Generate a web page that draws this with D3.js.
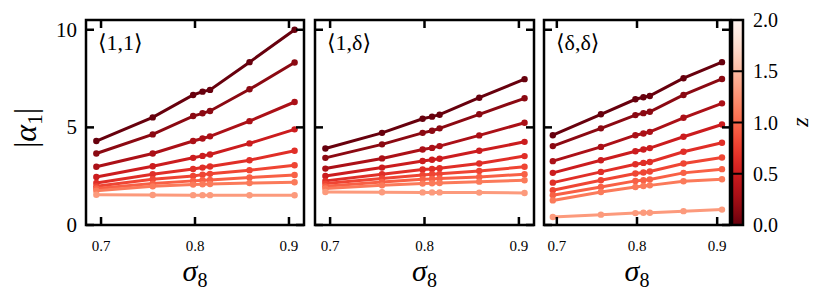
<!DOCTYPE html>
<html><head><meta charset="utf-8">
<script src="https://cdn.jsdelivr.net/npm/d3@7"></script>
<style>body{margin:0;background:#fff}svg{display:block}svg text{font-family:"Times New Roman",Times,"Liberation Serif",Tinos,"DejaVu Serif",serif}</style>
</head><body>
<svg id="c" width="830" height="304"></svg>
<script>
const sigma8 = [0.695, 0.755, 0.798, 0.808, 0.816, 0.858, 0.906];
const redshifts = [0, 0.15, 0.3, 0.5, 0.65, 0.8, 0.95, 1.1, 1.3];
const panelTitles = ["⟨1,1⟩", "⟨1,δ⟩", "⟨δ,δ⟩"];
const xTicks = [0.7, 0.8, 0.9];
const yTicks = [0, 5, 10];
const cbTicks = [0, 0.5, 1, 1.5, 2];

const alpha11 = [
  [4.30, 5.51, 6.66, 6.83, 6.92, 8.34, 10.0],
  [3.66, 4.64, 5.58, 5.72, 5.84, 6.95, 8.32],
  [2.98, 3.66, 4.30, 4.43, 4.54, 5.32, 6.30],
  [2.46, 3.01, 3.44, 3.54, 3.61, 4.18, 4.90],
  [2.15, 2.60, 2.87, 2.94, 3.00, 3.32, 3.80],
  [1.98, 2.34, 2.51, 2.58, 2.62, 2.81, 3.06],
  [1.87, 2.12, 2.26, 2.29, 2.31, 2.43, 2.56],
  [1.76, 1.98, 2.07, 2.09, 2.10, 2.15, 2.19],
  [1.55, 1.54, 1.53, 1.53, 1.53, 1.52, 1.52]
];
const alpha1d = [
  [3.92, 4.72, 5.44, 5.55, 5.65, 6.52, 7.47],
  [3.44, 4.13, 4.72, 4.83, 4.95, 5.67, 6.49],
  [2.89, 3.41, 3.87, 3.95, 4.04, 4.59, 5.24],
  [2.51, 2.94, 3.28, 3.34, 3.39, 3.80, 4.26],
  [2.26, 2.60, 2.84, 2.87, 2.91, 3.15, 3.53],
  [2.12, 2.38, 2.56, 2.60, 2.62, 2.77, 2.98],
  [1.98, 2.20, 2.34, 2.36, 2.38, 2.46, 2.60],
  [1.87, 2.03, 2.12, 2.14, 2.15, 2.22, 2.29],
  [1.69, 1.68, 1.67, 1.67, 1.67, 1.66, 1.64]
];
const alphadd = [
  [4.60, 5.67, 6.44, 6.54, 6.61, 7.52, 8.34],
  [4.04, 4.95, 5.63, 5.73, 5.80, 6.66, 7.48],
  [3.27, 4.00, 4.60, 4.69, 4.77, 5.49, 6.23],
  [2.67, 3.32, 3.78, 3.87, 3.94, 4.52, 5.15],
  [2.17, 2.72, 3.11, 3.18, 3.23, 3.75, 4.21],
  [1.78, 2.29, 2.64, 2.69, 2.74, 3.15, 3.46],
  [1.52, 1.95, 2.26, 2.29, 2.33, 2.67, 2.86],
  [1.26, 1.69, 1.95, 2.00, 2.03, 2.24, 2.34],
  [0.41, 0.53, 0.61, 0.63, 0.63, 0.71, 0.79]
];
const panelData = [alpha11, alpha1d, alphadd];

const svg = d3.select("#c");
const yTop = 20, yBot = 225;
const panels = [[86, 304], [315, 534], [544, 730]];
const y = d3.scaleLinear().domain([0, 10.5]).range([yBot, yTop]);
const color = d3.scaleSequential(d3.interpolateReds).domain([2, 0]);
const tickLen = 8;

panels.forEach((p, i) => {
  const x = d3.scaleLinear().domain([0.684, 0.916]).range(p);
  const g = svg.append("g");
  const line = d3.line().x((d, k) => x(sigma8[k])).y(d => y(d));
  panelData[i].forEach((vals, j) => {
    const c = color(redshifts[j]);
    g.append("path").datum(vals).attr("d", line)
      .attr("fill", "none").attr("stroke", c).attr("stroke-width", 3);
    g.selectAll(null).data(vals).enter().append("circle")
      .attr("cx", (d, k) => x(sigma8[k])).attr("cy", d => y(d))
      .attr("r", 3.2).attr("fill", c);
  });
  xTicks.forEach(t => {
    g.append("line").attr("x1", x(t)).attr("x2", x(t)).attr("y1", yBot).attr("y2", yBot - tickLen)
      .attr("stroke", "#000").attr("stroke-width", 2.5);
    g.append("line").attr("x1", x(t)).attr("x2", x(t)).attr("y1", yTop).attr("y2", yTop + tickLen)
      .attr("stroke", "#000").attr("stroke-width", 2.5);
    g.append("text").attr("x", x(t)).attr("y", 251).attr("text-anchor", "middle")
      .attr("font-size", 15).text(t.toFixed(1));
  });
  yTicks.forEach(t => {
    g.append("line").attr("x1", p[0]).attr("x2", p[0] + tickLen).attr("y1", y(t)).attr("y2", y(t))
      .attr("stroke", "#000").attr("stroke-width", 2.5);
    g.append("line").attr("x1", p[1]).attr("x2", p[1] - tickLen).attr("y1", y(t)).attr("y2", y(t))
      .attr("stroke", "#000").attr("stroke-width", 2.5);
    if (i === 0) {
      g.append("text").attr("x", 77).attr("y", y(t) + 7).attr("text-anchor", "end")
        .attr("font-size", 21).text(t);
    }
  });
  g.append("rect").attr("x", p[0]).attr("y", yTop).attr("width", p[1] - p[0]).attr("height", yBot - yTop)
    .attr("fill", "none").attr("stroke", "#000").attr("stroke-width", 2.5);
  g.append("text").attr("x", p[0] + 12).attr("y", 50)
    .attr("font-size", 22).text(panelTitles[i]);
  const xl = g.append("text").attr("x", (p[0] + p[1]) / 2).attr("y", 281).attr("text-anchor", "middle")
    .attr("font-size", 30);
  xl.append("tspan").attr("font-style", "italic").text("σ");
  xl.append("tspan").attr("font-size", 20).attr("dy", 6).text("8");
});

const yl = svg.append("text").attr("transform", "translate(36,128) rotate(-90)")
  .attr("text-anchor", "middle").attr("font-size", 32);
yl.append("tspan").text("|");
yl.append("tspan").attr("font-style", "italic").text("α");
yl.append("tspan").attr("font-size", 21).attr("dy", 6).text("1");
yl.append("tspan").attr("dy", -6).text("|");

const cbX = 732, cbW = 11;
const cy = d3.scaleLinear().domain([0, 2]).range([yBot, yTop]);
const defs = svg.append("defs");
const grad = defs.append("linearGradient").attr("id", "cbg").attr("x1", 0).attr("y1", 1).attr("x2", 0).attr("y2", 0);
d3.range(0, 2.0001, 0.1).forEach(z => {
  grad.append("stop").attr("offset", z / 2).attr("stop-color", color(z));
});
svg.append("rect").attr("x", cbX).attr("y", yTop).attr("width", cbW).attr("height", yBot - yTop)
  .attr("fill", "url(#cbg)").attr("stroke", "#000").attr("stroke-width", 2.5);
cbTicks.forEach(t => {
  svg.append("line").attr("x1", cbX).attr("x2", cbX + cbW).attr("y1", cy(t)).attr("y2", cy(t))
    .attr("stroke", "#000").attr("stroke-width", 2);
  svg.append("text").attr("x", 753).attr("y", cy(t) + 7)
    .attr("font-size", 20).text(t.toFixed(1));
});
svg.append("text").attr("transform", "translate(808,122) rotate(-90)").attr("text-anchor", "middle")
  .attr("font-style", "italic").attr("font-size", 24).text("z");
</script>
</body></html>
